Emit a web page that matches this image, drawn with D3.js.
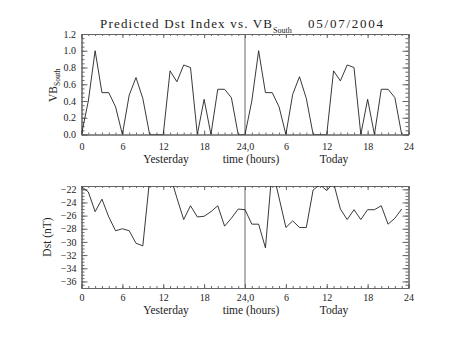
<!DOCTYPE html>
<html><head><meta charset="utf-8">
<script src="https://cdn.jsdelivr.net/npm/d3@7"></script>
<style>
body{margin:0;background:#fff;}
svg{display:block;}
text{font-family:"Liberation Serif","Times New Roman",serif;fill:#222;}
</style></head>
<body><div id="chart"></div>
<script>
// ---- data ----
const hours = d3.range(0, 48); // 0..23 yesterday, 24..47 today
const vbSouth = [0.00,0.40,1.00,0.50,0.50,0.33,0.00,0.47,0.68,0.43,0.00,0.00,
                 0.00,0.76,0.63,0.83,0.80,0.00,0.42,0.00,0.54,0.54,0.44,0.00,
                 0.00,0.40,1.00,0.50,0.50,0.33,0.00,0.48,0.69,0.43,0.00,0.00,
                 0.00,0.76,0.64,0.83,0.80,0.00,0.42,0.00,0.54,0.54,0.44,0.00];
const dst = [-21.6,-22.4,-25.4,-23.5,-26.2,-28.3,-28.0,-28.3,-30.2,-30.6,-20.5,-19.5,
             -19.5,-19.8,-23.3,-26.6,-24.5,-26.2,-26.1,-25.4,-24.5,-27.6,-26.4,-25.0,
             -25.1,-27.3,-27.3,-30.9,-18.8,-23.3,-27.8,-26.8,-27.8,-27.8,-22.1,-21.3,
             -22.2,-21.0,-25.0,-26.6,-25.1,-26.6,-25.1,-25.1,-24.5,-27.3,-26.4,-25.0];
const xTickValues = [0,6,12,18,24,30,36,42,48];
const xTickLabels = ["0","6","12","18","24,0","6","12","18","24"];
const vbTickValues = [0,0.2,0.4,0.6,0.8,1.0,1.2];
const vbTickLabels = ["0.0","0.2","0.4","0.6","0.8","1.0","1.2"];
const dstTickValues = [-36,-34,-32,-30,-28,-26,-24,-22];
const dstTickLabels = ["\u221236","\u221234","\u221232","\u221230","\u221228","\u221226","\u221224","\u221222"];
const titleMain = "Predicted Dst Index vs. VB";
const titleSub = "South";
const titleDate = "05/07/2004";
const xLabels = ["Yesterday","time (hours)","Today"];

// ---- layout ----
const W = 453, H = 340;
const svg = d3.select("#chart").append("svg").attr("width", W).attr("height", H);
const x = d3.scaleLinear().domain([0, 48]).range([81.5, 408.5]);

const panels = [
  {y: d3.scaleLinear().domain([0, 1.2]).range([134.5, 34]), data: vbSouth,
   tv: vbTickValues, tl: vbTickLabels, minor: d3.range(0, 1.2001, 0.05), id: "c1",
   xpad: 8, ypad: 5.5, lab: 28},
  {y: d3.scaleLinear().domain([-37, -21.5]).range([288, 186]), data: dst,
   tv: dstTickValues, tl: dstTickLabels, minor: d3.range(-37, -21.49, 0.5), id: "c2",
   xpad: 6.3, ypad: 5, lab: 25.5}
];

const axisCol = "#666";
panels.forEach((p, pi) => {
  const g = svg.append("g");
  const [y0, y1] = p.y.range(); // bottom, top
  const x0 = x.range()[0], x1 = x.range()[1];
  g.append("clipPath").attr("id", p.id).append("rect")
    .attr("x", x0).attr("y", y1).attr("width", x1 - x0).attr("height", y0 - y1);

  // x axes bottom & top (inward ticks)
  g.append("g").attr("transform", `translate(0,${y0})`)
    .call(d3.axisBottom(x).tickValues(xTickValues).tickSize(-4).tickPadding(p.xpad)
      .tickFormat((d, i) => xTickLabels[i]));
  g.append("g").attr("transform", `translate(0,${y0})`)
    .call(d3.axisBottom(x).tickValues(d3.range(0, 49)).tickSize(-2).tickFormat(""));
  g.append("g").attr("transform", `translate(0,${y1})`)
    .call(d3.axisTop(x).tickValues(xTickValues).tickSize(-4).tickFormat(""));
  g.append("g").attr("transform", `translate(0,${y1})`)
    .call(d3.axisTop(x).tickValues(d3.range(0, 49)).tickSize(-2).tickFormat(""));
  // y axes left & right
  g.append("g").attr("transform", `translate(${x0},0)`)
    .call(d3.axisLeft(p.y).tickValues(p.tv).tickSize(-6).tickPadding(p.ypad)
      .tickFormat((d, i) => p.tl[i]));
  g.append("g").attr("transform", `translate(${x0},0)`)
    .call(d3.axisLeft(p.y).tickValues(p.minor).tickSize(-3).tickFormat(""));
  g.append("g").attr("transform", `translate(${x1},0)`)
    .call(d3.axisRight(p.y).tickValues(p.tv).tickSize(-6).tickFormat(""));
  g.append("g").attr("transform", `translate(${x1},0)`)
    .call(d3.axisRight(p.y).tickValues(p.minor).tickSize(-3).tickFormat(""));

  g.selectAll(".domain").attr("stroke", axisCol);
  g.selectAll(".tick line").attr("stroke", axisCol);
  g.selectAll(".tick text").attr("font-family", "Liberation Serif, serif")
    .attr("font-size", 10).attr("fill", "#222");

  // divider line at 24 h
  g.append("line").attr("x1", x(24)).attr("x2", x(24)).attr("y1", y1).attr("y2", y0)
    .attr("stroke", axisCol).attr("stroke-width", 1);

  // data line
  const line = d3.line().x((d, i) => x(hours[i])).y(d => p.y(d));
  g.append("path").datum(p.data).attr("d", line).attr("fill", "none")
    .attr("stroke", "#222").attr("stroke-width", 0.9)
    .attr("clip-path", `url(#${p.id})`);

  // x axis labels
  const ly = y0 + p.lab;
  g.append("text").attr("x", 166).attr("y", ly).attr("text-anchor", "middle")
    .attr("font-size", 11.5).text(xLabels[0]);
  g.append("text").attr("x", 251).attr("y", ly).attr("text-anchor", "middle")
    .attr("font-size", 11.5).text(xLabels[1]);
  g.append("text").attr("x", 334).attr("y", ly).attr("text-anchor", "middle")
    .attr("font-size", 11.5).text(xLabels[2]);
});

// y-axis titles
const t1 = svg.append("text").attr("transform", "translate(57,102) rotate(-90)")
  .attr("font-size", 11.5);
t1.append("tspan").text("VB");
t1.append("tspan").attr("font-size", 7.5).attr("dy", 3).text("South");

svg.append("text").attr("transform", "translate(51,237) rotate(-90)")
  .attr("text-anchor", "middle").attr("font-size", 11.5).text("Dst (nT)");

// title
const tt = svg.append("text").attr("x", 100).attr("y", 28).attr("font-size", 13);
tt.append("tspan").attr("textLength", 172).attr("lengthAdjust", "spacing").text(titleMain);
tt.append("tspan").attr("font-size", 8).attr("dy", 5).attr("x", 273).text(titleSub);
svg.append("text").attr("x", 308).attr("y", 28).attr("font-size", 13)
  .attr("textLength", 75).attr("lengthAdjust", "spacing").text(titleDate);
</script></body></html>
